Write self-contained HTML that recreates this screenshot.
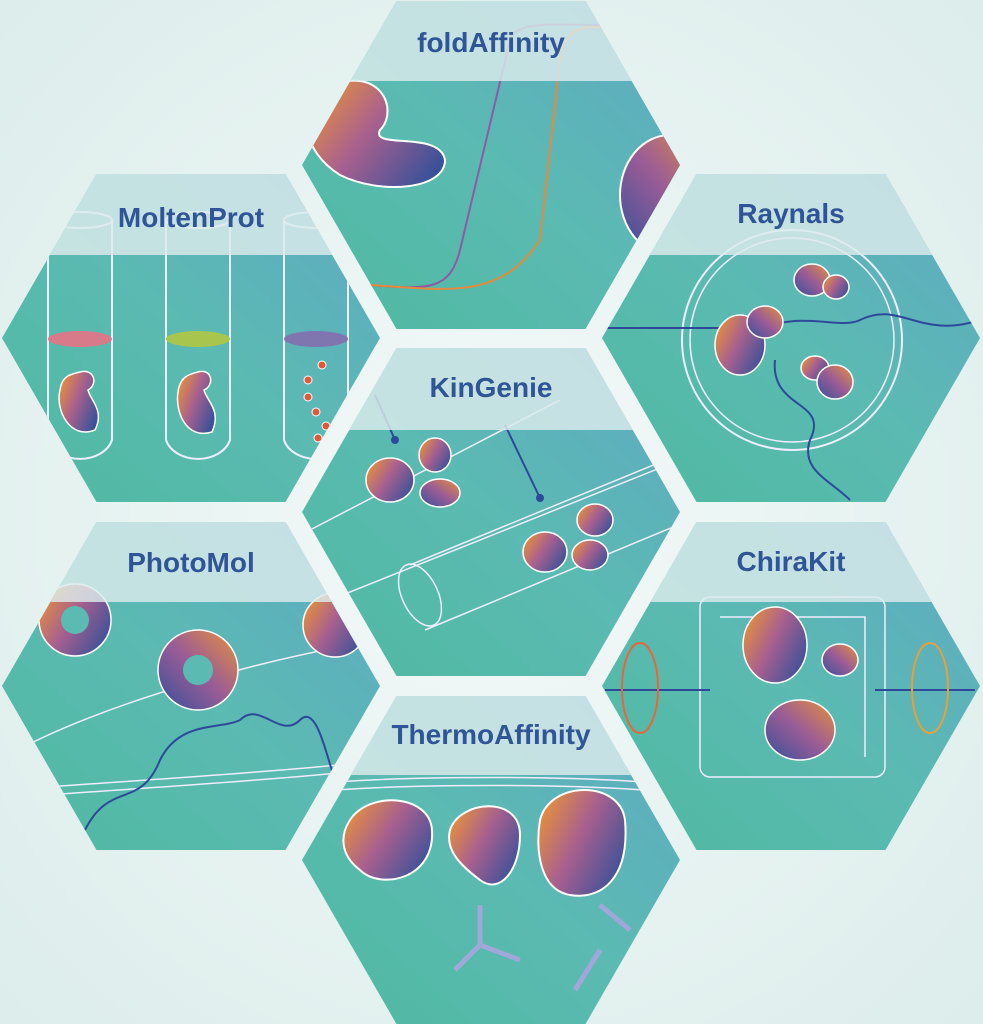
<!DOCTYPE html>
<html><head><meta charset="utf-8"><style>
html,body{margin:0;padding:0;width:983px;height:1024px;overflow:hidden;background:#e6f2f0}
svg{display:block}
text{font-family:"Liberation Sans",sans-serif;font-weight:bold;font-size:28px;fill:#2f5597;text-anchor:middle}
</style></head><body>
<svg width="983" height="1024" viewBox="0 0 983 1024" xmlns="http://www.w3.org/2000/svg">
<defs>
<radialGradient id="bg" cx="50%" cy="50%" r="70%"><stop offset="0" stop-color="#f4faf9"/><stop offset="1" stop-color="#dcedeb"/></radialGradient>
<linearGradient id="teal" x1="0" y1="1" x2="1" y2="0"><stop offset="0" stop-color="#4fb9a0"/><stop offset="0.5" stop-color="#5bbab2"/><stop offset="1" stop-color="#5fa9c4"/></linearGradient>
<linearGradient id="blob" x1="0" y1="0.2" x2="1" y2="0.8"><stop offset="0" stop-color="#e8913a"/><stop offset="0.45" stop-color="#a8608e"/><stop offset="1" stop-color="#34509a"/></linearGradient>
<linearGradient id="blob2" x1="1" y1="0" x2="0" y2="1"><stop offset="0" stop-color="#e8913a"/><stop offset="0.5" stop-color="#9a5c96"/><stop offset="1" stop-color="#34509a"/></linearGradient>
<clipPath id="c1"><polygon points="302,165 396.5,1 585.5,1 680,165 585.5,329 396.5,329"/></clipPath>
<clipPath id="c2"><polygon points="2,338 96.5,174 285.5,174 380,338 285.5,502 96.5,502"/></clipPath>
<clipPath id="c3"><polygon points="602,338 696.5,174 885.5,174 980,338 885.5,502 696.5,502"/></clipPath>
<clipPath id="c4"><polygon points="302,512 396.5,348 585.5,348 680,512 585.5,676 396.5,676"/></clipPath>
<clipPath id="c5"><polygon points="2,686 96.5,522 285.5,522 380,686 285.5,850 96.5,850"/></clipPath>
<clipPath id="c6"><polygon points="602,686 696.5,522 885.5,522 980,686 885.5,850 696.5,850"/></clipPath>
<clipPath id="c7"><polygon points="302,860 396.5,696 585.5,696 680,860 585.5,1024 396.5,1024"/></clipPath>
</defs>
<rect width="983" height="1024" fill="url(#bg)"/>

<g clip-path="url(#c1)">
<rect x="300" y="0" width="385" height="330" fill="url(#teal)"/>
<path d="M320,90 C380,60 400,110 380,130 C370,150 440,130 445,160 C445,190 380,195 340,175 C300,150 300,110 320,90Z" fill="url(#blob)" stroke="#fff" stroke-width="2"/>
<ellipse cx="670" cy="195" rx="50" ry="60" fill="url(#blob2)" stroke="#fff" stroke-width="2"/>
<path d="M370,285 C430,290 450,290 460,250 L510,40 C515,20 560,25 600,25" fill="none" stroke="#8c5ba4" stroke-width="2"/>
<path d="M370,285 C450,290 500,300 540,240 L560,60 C565,30 580,25 605,28" fill="none" stroke="#e48a3c" stroke-width="2"/>
<rect x="300" y="0" width="385" height="81" fill="#dcecec" opacity="0.82"/>
</g>
<text x="491" y="52">foldAffinity</text>

<g clip-path="url(#c2)">
<rect x="0" y="170" width="385" height="335" fill="url(#teal)"/>
<g fill="none" stroke="#eef" stroke-width="2">
<path d="M48,220 V440 A33,25 0 0 0 112,440 V220"/><ellipse cx="80" cy="220" rx="32" ry="8"/>
<path d="M166,220 V440 A33,25 0 0 0 230,440 V220"/><ellipse cx="198" cy="220" rx="32" ry="8"/>
<path d="M284,220 V440 A33,25 0 0 0 348,440 V220"/><ellipse cx="316" cy="220" rx="32" ry="8"/>
</g>
<ellipse cx="80" cy="339" rx="32" ry="8" fill="#d97a8a"/>
<ellipse cx="198" cy="339" rx="32" ry="8" fill="#a8c64e"/>
<ellipse cx="316" cy="339" rx="32" ry="8" fill="#7f76b0"/>
<path d="M80,372 C95,368 98,385 88,390 C90,400 105,410 95,430 C70,440 55,410 60,390 C62,375 72,374 80,372Z" fill="url(#blob)" stroke="#fff" stroke-width="1.5"/>
<path d="M198,372 C212,368 215,385 204,390 C206,400 222,410 212,432 C185,440 175,410 178,392 C180,376 190,374 198,372Z" fill="url(#blob)" stroke="#fff" stroke-width="1.5"/>
<g fill="#e0583a" stroke="#fff"><circle cx="322" cy="365" r="4"/><circle cx="308" cy="380" r="4"/><circle cx="308" cy="397" r="4"/><circle cx="316" cy="412" r="4"/><circle cx="326" cy="426" r="4"/><circle cx="318" cy="438" r="4"/></g>
<rect x="0" y="170" width="385" height="85" fill="#dcecec" opacity="0.82"/>
</g>
<text x="191" y="227">MoltenProt</text>

<g clip-path="url(#c3)">
<rect x="600" y="170" width="385" height="335" fill="url(#teal)"/>
<circle cx="792" cy="340" r="110" fill="none" stroke="#eef" stroke-width="2"/>
<circle cx="792" cy="340" r="102" fill="none" stroke="#eef" stroke-width="1.5"/>
<path d="M605,328 L725,328" stroke="#2d4a9a" stroke-width="2"/>
<path d="M760,330 C800,310 840,330 860,320 C900,300 920,340 980,320" fill="none" stroke="#2d4a9a" stroke-width="2"/>
<path d="M775,360 C770,410 830,400 810,440 C800,470 830,480 850,500" fill="none" stroke="#2d4a9a" stroke-width="2"/>
<ellipse cx="740" cy="345" rx="25" ry="30" fill="url(#blob)" stroke="#fff" stroke-width="1.5"/>
<ellipse cx="765" cy="322" rx="18" ry="16" fill="url(#blob2)" stroke="#fff" stroke-width="1.5"/>
<ellipse cx="812" cy="280" rx="18" ry="16" fill="url(#blob2)" stroke="#fff" stroke-width="1.5"/>
<ellipse cx="836" cy="287" rx="13" ry="12" fill="url(#blob)" stroke="#fff" stroke-width="1.5"/>
<ellipse cx="815" cy="368" rx="14" ry="12" fill="url(#blob)" stroke="#fff" stroke-width="1.5"/>
<ellipse cx="835" cy="382" rx="18" ry="17" fill="url(#blob2)" stroke="#fff" stroke-width="1.5"/>
<rect x="600" y="170" width="385" height="85" fill="#dcecec" opacity="0.82"/>
</g>
<text x="791" y="223">Raynals</text>

<g clip-path="url(#c4)">
<rect x="300" y="345" width="385" height="335" fill="url(#teal)"/>
<g fill="none" stroke="#eef" stroke-width="1.5">
<path d="M310,530 L560,400"/><path d="M330,600 L680,460"/>
<ellipse cx="420" cy="595" rx="18" ry="33" transform="rotate(-25 420 595)"/>
<path d="M410,565 L690,450 M425,630 L690,520"/>
</g>
<path d="M375,395 L395,440 M505,425 L540,498" stroke="#2d4a9a" stroke-width="2"/>
<circle cx="395" cy="440" r="4" fill="#2d4a9a"/><circle cx="540" cy="498" r="4" fill="#2d4a9a"/>
<ellipse cx="390" cy="480" rx="24" ry="22" fill="url(#blob)" stroke="#fff" stroke-width="1.5"/>
<ellipse cx="435" cy="455" rx="16" ry="17" fill="url(#blob)" stroke="#fff" stroke-width="1.5"/>
<ellipse cx="440" cy="493" rx="20" ry="14" fill="url(#blob2)" stroke="#fff" stroke-width="1.5"/>
<ellipse cx="595" cy="520" rx="18" ry="16" fill="url(#blob)" stroke="#fff" stroke-width="1.5"/>
<ellipse cx="545" cy="552" rx="22" ry="20" fill="url(#blob)" stroke="#fff" stroke-width="1.5"/>
<ellipse cx="590" cy="555" rx="18" ry="15" fill="url(#blob)" stroke="#fff" stroke-width="1.5"/>
<rect x="300" y="345" width="385" height="85" fill="#dcecec" opacity="0.82"/>
</g>
<text x="491" y="397">KinGenie</text>

<g clip-path="url(#c5)">
<rect x="0" y="520" width="385" height="335" fill="url(#teal)"/>
<g fill="none" stroke="#eef" stroke-width="1.5">
<path d="M0,760 C100,700 300,650 385,640"/><path d="M0,790 C150,780 300,770 385,760"/><path d="M0,798 C150,788 300,778 385,768"/>
</g>
<path d="M85,830 C110,780 140,810 160,760 C180,720 220,730 240,720 C260,700 280,740 300,720 C320,700 330,780 340,790" fill="none" stroke="#2d4a9a" stroke-width="2"/>
<circle cx="75" cy="620" r="36" fill="url(#blob)" stroke="#fff" stroke-width="1.5"/><circle cx="75" cy="620" r="14" fill="#5bbab2"/>
<circle cx="198" cy="670" r="40" fill="url(#blob2)" stroke="#fff" stroke-width="1.5"/><circle cx="198" cy="670" r="15" fill="#5bbab2"/>
<circle cx="335" cy="625" r="32" fill="url(#blob)" stroke="#fff" stroke-width="1.5"/>
<rect x="0" y="520" width="385" height="82" fill="#dcecec" opacity="0.82"/>
</g>
<text x="191" y="572">PhotoMol</text>

<g clip-path="url(#c6)">
<rect x="600" y="520" width="385" height="335" fill="url(#teal)"/>
<g fill="none" stroke="#eef" stroke-width="1.5">
<rect x="700" y="597" width="185" height="180" rx="10"/><path d="M720,617 L865,617 L865,757"/>
</g>
<path d="M605,690 L710,690 M875,690 L975,690" stroke="#2d4a9a" stroke-width="2"/>
<ellipse cx="640" cy="688" rx="18" ry="45" fill="none" stroke="#e8663a" stroke-width="2"/>
<ellipse cx="930" cy="688" rx="18" ry="45" fill="none" stroke="#e8a03a" stroke-width="2"/>
<ellipse cx="775" cy="645" rx="32" ry="38" fill="url(#blob)" stroke="#fff" stroke-width="1.5"/>
<ellipse cx="840" cy="660" rx="18" ry="16" fill="url(#blob2)" stroke="#fff" stroke-width="1.5"/>
<ellipse cx="800" cy="730" rx="35" ry="30" fill="url(#blob2)" stroke="#fff" stroke-width="1.5"/>
<rect x="600" y="520" width="385" height="82" fill="#dcecec" opacity="0.82"/>
</g>
<text x="791" y="571">ChiraKit</text>

<g clip-path="url(#c7)">
<rect x="300" y="690" width="385" height="340" fill="url(#teal)"/>
<g fill="none" stroke="#eef" stroke-width="1.5"><path d="M300,785 C400,775 580,775 680,785"/><path d="M300,793 C400,783 580,783 680,793"/></g>
<path d="M350,820 C370,790 430,795 432,830 C435,880 380,890 360,870 C340,855 340,835 350,820Z" fill="url(#blob)" stroke="#fff" stroke-width="2"/>
<path d="M450,830 C460,800 520,795 520,835 C520,870 500,895 480,880 C460,865 445,850 450,830Z" fill="url(#blob)" stroke="#fff" stroke-width="2"/>
<path d="M540,820 C550,780 620,780 625,820 C630,880 600,900 570,895 C540,890 535,850 540,820Z" fill="url(#blob)" stroke="#fff" stroke-width="2"/>
<g fill="none" stroke="#9fa8d8" stroke-width="5"><path d="M480,905 L480,945 L455,970 M480,945 L520,960"/><path d="M600,905 L630,930 M600,950 L575,990"/></g>
<rect x="300" y="690" width="385" height="85" fill="#dcecec" opacity="0.82"/>
</g>
<text x="491" y="744">ThermoAffinity</text>
</svg>
</body></html>
